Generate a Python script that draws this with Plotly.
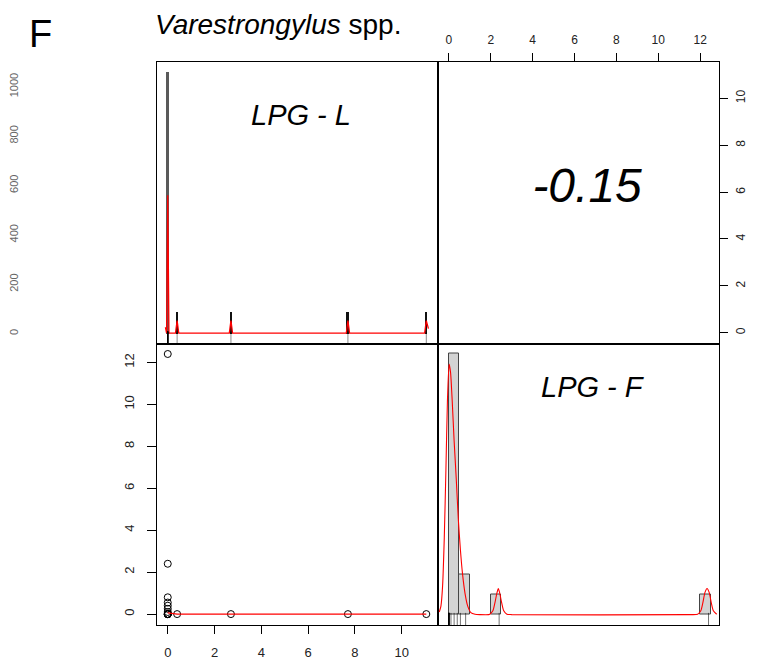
import plotly.graph_objects as go

# ---------------- data ----------------
lpg_L = [0, 0, 0, 0, 0, 0, 0, 0, 0, 0, 0, 0, 0, 0.4, 2.7, 7.7, 11.05]
lpg_F = [12.4, 2.4, 0.8, 0.55, 0.4, 0.25, 0.1, 0, 0, 0, 0, 0, 0, 0, 0, 0, 0]

corr_value = "-0.15"

# histogram of LPG - L (density scale)
histL_x = [0, 0.4, 2.7, 7.7, 11.05]
histL_y = [1060, 86, 86, 86, 86]

# density curve of LPG - L
densL_x = [-0.1, -0.05, 0.0, 0.05, 0.1, 0.33, 0.4, 0.47, 2.63, 2.7, 2.77,
           7.63, 7.7, 7.77, 10.98, 11.05, 11.14]
densL_y = [26, 2, 560, 2, 2, 2, 53, 2, 2, 53, 2, 2, 53, 2, 2, 53, 20]

# histogram of LPG - F (bins of 0.5, density scale)
histF_mid = [0.25, 0.75, 2.25, 12.25]
histF_dens = [1.53, 0.235, 0.118, 0.118]

# density curve of LPG - F
densF_x = [-0.46, -0.38, -0.3, -0.22, -0.14, -0.07, 0.01, 0.08, 0.16, 0.25, 0.35,
           0.45, 0.55, 0.65, 0.77, 0.9, 1.05, 1.25, 1.5, 1.9,
           1.95, 2.1, 2.2, 2.3, 2.36, 2.42, 2.52, 2.62, 2.77, 3.0,
           11.5, 11.88, 12.03, 12.13, 12.23, 12.33, 12.43, 12.53, 12.63, 12.79]
densF_y = [0.015, 0.05, 0.17, 0.45, 0.86, 1.25, 1.47, 1.42, 1.25, 1.02, 0.8,
           0.56, 0.38, 0.24, 0.125, 0.05, 0.012, 0.002, 0.0, 0.0,
           0.002, 0.022, 0.07, 0.13, 0.153, 0.13, 0.07, 0.022, 0.002, 0.0,
           0.0, 0.002, 0.022, 0.07, 0.13, 0.153, 0.13, 0.07, 0.022, 0.002]

# lowess line of the scatter
lowess_x = [0, 0.2, 0.4, 2.7, 7.7, 11.05]
lowess_y = [0.06, 0.02, 0.0, 0.0, 0.0, 0.0]

# axis ticks
L_ticks = [0, 2, 4, 6, 8, 10]
F_ticks = [0, 2, 4, 6, 8, 10, 12]
outer_ticks = [0, 200, 400, 600, 800, 1000]

# ---------------- layout geometry ----------------
OFF = 8                      # page body margin
W, H = 755, 655
def px_x(p): return (p - OFF) / W
def px_y(p): return 1 - (p - OFF) / H

xd_left = [px_x(157), px_x(438)]
xd_right = [px_x(438), px_x(719)]
yd_top = [px_y(343.5), px_y(62)]
yd_bot = [px_y(625), px_y(343.5)]

L_range = [-0.46, 11.55]
F_range = [-0.52, 12.9]
histL_range = [-40, 1100]
histF_range = [-0.061, 1.59]

FONT = "Liberation Sans, Arial, Helvetica, sans-serif"
tickfont = dict(family=FONT, size=13, color="#222")

fig = go.Figure()

# ---- top-left: histogram + density of LPG - L ----
fig.add_trace(go.Bar(x=histL_x, y=histL_y, width=[0.12, 0.08, 0.08, 0.08, 0.08],
                     marker=dict(color=["#5a5a5a", "#111", "#111", "#111", "#111"],
                                 line=dict(width=0)),
                     xaxis="x", yaxis="y", showlegend=False))
fig.add_trace(go.Scatter(x=densL_x, y=densL_y, mode="lines",
                         line=dict(color="red", width=1.3),
                         xaxis="x", yaxis="y", showlegend=False))
fig.add_trace(go.Scatter(x=lpg_L, y=[-20] * len(lpg_L), mode="markers",
                         marker=dict(symbol="line-ns", size=10,
                                     line=dict(color="rgba(0,0,0,0.45)", width=1)),
                         xaxis="x", yaxis="y", showlegend=False))
# invisible trace carrying the outer density scale
fig.add_trace(go.Scatter(x=histL_x, y=histL_y, mode="none", hoverinfo="skip",
                         xaxis="x", yaxis="y5", showlegend=False))

# ---- top-right: correlation value ----
fig.add_trace(go.Scatter(x=[6.6], y=[6.1], mode="text",
                         text=["<i>" + corr_value + "</i>"],
                         textfont=dict(family=FONT, size=48, color="black"),
                         xaxis="x2", yaxis="y2", showlegend=False))

# ---- bottom-left: scatter ----
fig.add_trace(go.Scatter(x=lpg_L, y=lpg_F, mode="markers",
                         marker=dict(symbol="circle-open", size=7, color="black",
                                     line=dict(width=1, color="black")),
                         xaxis="x3", yaxis="y3", showlegend=False))
fig.add_trace(go.Scatter(x=lowess_x, y=lowess_y, mode="lines",
                         line=dict(color="red", width=1.3),
                         xaxis="x3", yaxis="y3", showlegend=False))

# ---- bottom-right: histogram + density of LPG - F ----
fig.add_trace(go.Bar(x=histF_mid, y=histF_dens, width=0.5,
                     marker=dict(color="#d3d3d3", line=dict(color="#444", width=1)),
                     xaxis="x4", yaxis="y4", showlegend=False))
fig.add_trace(go.Scatter(x=densF_x, y=densF_y, mode="lines",
                         line=dict(color="red", width=1.1, shape="spline", smoothing=0.6),
                         xaxis="x4", yaxis="y4", showlegend=False))
fig.add_trace(go.Scatter(x=lpg_F, y=[-0.031] * len(lpg_F), mode="markers",
                         marker=dict(symbol="line-ns", size=10,
                                     line=dict(color="rgba(0,0,0,0.55)", width=1)),
                         xaxis="x4", yaxis="y4", showlegend=False))

box = dict(showline=True, mirror=True, linecolor="black", linewidth=1,
           showgrid=False, zeroline=False)

fig.update_layout(
    width=W, height=H,
    margin=dict(l=0, r=0, t=0, b=0),
    paper_bgcolor="white", plot_bgcolor="white",
    bargap=0,
    xaxis=dict(domain=xd_left, anchor="y", range=L_range, showticklabels=False,
               ticks="", **box),
    yaxis=dict(domain=yd_top, anchor="x", range=histL_range, showticklabels=False,
               ticks="", **box),
    xaxis2=dict(domain=xd_right, anchor="y2", range=F_range, side="top",
                tickvals=F_ticks, ticks="outside", ticklen=8, tickcolor="black",
                ticklabelstandoff=4,
                tickfont=dict(family=FONT, size=12, color="#222"), **box),
    yaxis2=dict(domain=yd_top, anchor="x2", range=L_range, side="right",
                tickvals=L_ticks, ticks="outside", ticklen=8, tickcolor="black",
                ticklabelstandoff=3,
                tickangle=-90, tickfont=dict(family=FONT, size=12, color="#222"), **box),
    xaxis3=dict(domain=xd_left, anchor="y3", range=L_range,
                tickvals=L_ticks, ticks="outside", ticklen=8, tickcolor="black",
                ticklabelstandoff=7,
                tickfont=tickfont, **box),
    yaxis3=dict(domain=yd_bot, anchor="x3", range=F_range,
                tickvals=F_ticks, ticks="outside", ticklen=9, tickcolor="black",
                ticklabelstandoff=8,
                tickangle=-90, tickfont=tickfont, **box),
    xaxis4=dict(domain=xd_right, anchor="y4", range=F_range, showticklabels=False,
                ticks="", **box),
    yaxis4=dict(domain=yd_bot, anchor="x4", range=histF_range, showticklabels=False,
                ticks="", **box),
    yaxis5=dict(overlaying="y", anchor="free", position=px_x(20), range=histL_range,
                tickvals=outer_ticks, ticks="", showline=False, showgrid=False,
                zeroline=False, tickangle=-90, side="left",
                tickfont=dict(family=FONT, size=11, color="#666")),
)

def label(x, y, text, size, xanchor="center"):
    fig.add_annotation(x=px_x(x), y=px_y(y), xref="paper", yref="paper",
                       xanchor=xanchor, yanchor="middle", text=text, showarrow=False,
                       font=dict(family=FONT, size=size, color="black"))

label(40, 34, "F", 38)
label(153, 25, "<i>Varestrongylus</i> spp.", 28, xanchor="left")
label(301, 115, "<i>LPG - L</i>", 29)
label(593, 387, "<i>LPG - F</i>", 29)

fig.write_html("out.html")
